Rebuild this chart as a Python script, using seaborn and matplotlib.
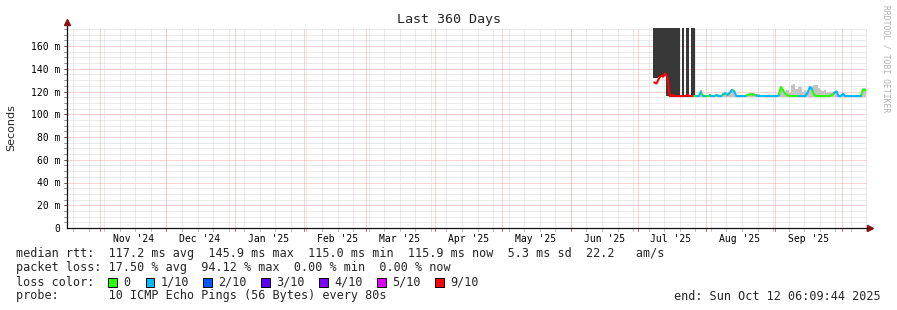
import numpy as np
import pandas as pd
import matplotlib
matplotlib.use("Agg")
import matplotlib.pyplot as plt
from matplotlib.patches import Rectangle
import seaborn as sns

# ---------------- data ----------------
chart_start = pd.Timestamp("2024-10-17 06:09:44")
chart_end = pd.Timestamp("2025-10-12 06:09:44")
sample_days = pd.date_range("2025-07-08 12:00", periods=96, freq="D")

median_ms = [128, 127, 131, 134, 133, 136, 132,
             116, 117, 116, 116, 116, 116, 116, 116, 117, 116, 116, 116,
             116, 116, 119.5, 116, 116, 116, 116.5, 116, 116, 117, 116,
             116, 117.5, 118.5, 117, 119, 121.5, 120, 116, 116, 116,
             116, 116, 117, 117.5, 117.5, 117, 116.5, 116, 116, 116,
             116, 116, 116, 116, 116, 116, 116.5, 124, 121, 118,
             116.5, 116, 116, 116, 116, 116, 116, 116, 116, 119,
             124, 122, 117, 116, 116, 116, 116, 116, 116, 116,
             117, 119, 120, 116, 116, 118, 116, 116, 116, 116,
             116, 116, 116, 116, 122, 121]

lost_pings = [9, 9, 9, 9, 9, 9, 9, 9, 9, 9, 9, 9, 9, 9, 9, 9, 9, 9, 9,
              0, 1, 1, 0, 1, 0, 0, 1, 1, 0, 1,
              1, 0, 1, 0, 1, 1, 0, 1, 1, 1,
              1, 1, 0, 0, 0, 0, 0, 1, 1, 1,
              1, 1, 1, 1, 1, 1, 1, 0, 0, 0,
              0, 0, 0, 0, 0, 0, 1, 1, 1, 1,
              1, 1, 0, 0, 0, 0, 0, 0, 0, 0,
              0, 0, 1, 1, 1, 1, 1, 1, 1, 1,
              1, 1, 1, 1, 0, 0]

smoke_top = [250, 250, 250, 250, 250, 250, 250, 250, 250, 250, 250, 250,
             117, 250, 117, 250, 117, 250, 250,
             117, 117, 121, 117, 117, 117, 117.5, 117, 117, 118, 117,
             117, 118.5, 119.5, 118, 120, 122.5, 121, 117, 117, 117,
             117, 117, 118, 119, 119, 118.5, 118, 117.5, 117, 117,
             117, 117, 117, 117, 117, 117, 117.5, 125, 122, 120,
             121, 119, 126, 126.5, 122, 124, 124, 120, 121, 120,
             124.5, 125, 126, 125.5, 123, 121, 120.5, 121, 119, 119.5,
             118.5, 119.5, 120.5, 117, 117, 118.5, 117, 117, 117, 117,
             117, 117, 117, 117, 122, 123.5]

smoke_bottom = [132, 132, 133, 134, 134, 136, 116,
                115.5, 115.5, 115.5, 115.5, 115.5, 115.5, 115.5, 115.5, 115.5, 115.5, 115.5, 115.5,
                115.5, 115.5, 115.5, 115.5, 115.5, 115.5, 115.5, 115.5, 115.5, 115.5, 115.5,
                115.5, 115.5, 115.5, 115.5, 115.5, 115.5, 115.5, 115.5, 115.5, 115.5,
                115.5, 115.5, 115.5, 115.5, 115.5, 115.5, 115.5, 115.5, 115.5, 115.5,
                115.5, 115.5, 115.5, 115.5, 115.5, 115.5, 115.5, 115.5, 115.5, 115.5,
                115.5, 115.5, 115.5, 115.5, 115.5, 115.5, 115.5, 115.5, 115.5, 115.5,
                115.5, 115.5, 115.5, 115.5, 115.5, 115.5, 115.5, 115.5, 115.5, 115.5,
                115.5, 115.5, 115.5, 115.5, 115.5, 115.5, 115.5, 115.5, 115.5, 115.5,
                115.5, 115.5, 115.5, 115.5, 115.5, 115.5]

loss_labels = ["0", "1/10", "2/10", "3/10", "4/10", "5/10", "9/10"]
loss_levels = [0, 1, 2, 3, 4, 5, 9]
loss_colors = ["#26ff00", "#00b8ff", "#0059ff", "#5e00ff", "#7e00ff", "#dd00ff", "#ff0000"]

y_ticks = [0, 20, 40, 60, 80, 100, 120, 140, 160]
month_labels = ["Nov '24", "Dec '24", "Jan '25", "Feb '25", "Mar '25", "Apr '25",
                "May '25", "Jun '25", "Jul '25", "Aug '25", "Sep '25"]
month_centers = pd.date_range("2024-11-01", periods=11, freq="MS") + pd.Timedelta(days=15)
month_starts = pd.date_range("2024-11-01", "2025-10-01", freq="MS")
week_starts = pd.date_range("2024-10-20", "2025-10-12", freq="7D")

title = "Last 360 Days"
stats_rtt = "median rtt:  117.2 ms avg  145.9 ms max  115.0 ms min  115.9 ms now  5.3 ms sd  22.2   am/s"
stats_loss = "packet loss: 17.50 % avg  94.12 % max  0.00 % min  0.00 % now"
probe_text = "probe:       10 ICMP Echo Pings (56 Bytes) every 80s"
end_text = "end: Sun Oct 12 06:09:44 2025"

# ---------------- drawing ----------------
sns.set_style("white")
plt.rcParams["font.family"] = ["DejaVu Sans Mono", "DejaVu Sans"]
MONO = "DejaVu Sans Mono"

W, H = 897, 310
fig = plt.figure(figsize=(W / 100, H / 100), dpi=100)
fig.patch.set_facecolor("white")


def fx(x):
    return x / W


def fy(y):
    return 1 - y / H


ax = fig.add_axes([fx(67), fy(228), 800 / W, 200 / H])
ax.set_facecolor("white")
ymax = 200 / 1.1375
ax.set_ylim(0, ymax)
ax.set_xlim(chart_start, chart_end)

MINOR = "#d6d6d6"
MAJOR = "#f4a6a6"
dot = (0, (1, 1))

# horizontal grid
for v in range(5, 180, 5):
    if v > ymax:
        break
    col = MAJOR if v % 20 == 0 else MINOR
    ax.axhline(v, color=col, lw=0.72, ls=dot, zorder=0.5)
    ax.axhline(v, xmin=-3 / 800, xmax=0, color="#999999" if v % 20 else "#666666",
               lw=0.72, clip_on=False, zorder=0.5)
# vertical grid
for d in week_starts:
    if chart_start < d < chart_end:
        ax.axvline(d, color=MINOR, lw=0.72, ls=dot, zorder=0.5)
        ax.axvline(d, ymin=-3 / 200, ymax=0, color="#c0c0c0", lw=0.72, clip_on=False)
for d in month_starts:
    ax.axvline(d, color=MAJOR, lw=0.72, ls=dot, zorder=0.6)
    ax.axvline(d, ymin=-3 / 200, ymax=0, color="#e06060", lw=0.72, clip_on=False)

# smoke
top = np.array(smoke_top, dtype=float)
bot = np.array(smoke_bottom, dtype=float)
beyond = top > ymax
ax.bar(sample_days[beyond], (top - bot)[beyond], bottom=bot[beyond], width=1.0,
       color="#383838", linewidth=0, zorder=1)
ax.bar(sample_days[~beyond], (top - bot)[~beyond], bottom=bot[~beyond], width=1.0,
       color="#c4c4c4", linewidth=0, zorder=1)

# median line coloured by loss
lab_of = dict(zip(loss_levels, loss_labels))
rows = []
seg = 0
for i in range(len(median_ms)):
    if i == 0 or lost_pings[i] != lost_pings[i - 1]:
        seg += 1
        if i > 0:
            rows.append((seg, sample_days[i - 1], median_ms[i - 1], lab_of[lost_pings[i]]))
    rows.append((seg, sample_days[i], median_ms[i], lab_of[lost_pings[i]]))
df = pd.DataFrame(rows, columns=["seg", "date", "ms", "loss"])
sns.lineplot(data=df, x="date", y="ms", hue="loss", units="seg", estimator=None,
             palette=dict(zip(loss_labels, loss_colors)), legend=False, sort=False,
             linewidth=1.5, ax=ax, zorder=3)
ax.set_xlim(chart_start, chart_end)
ax.set_ylim(0, ymax)

# axes
for s in ["top", "right"]:
    ax.spines[s].set_visible(False)
for s in ["left", "bottom"]:
    ax.spines[s].set_color("#111111")
    ax.spines[s].set_linewidth(0.9)
    ax.spines[s].set_zorder(4)
ax.plot([0, 0], [1, 1 + 5 / 200], transform=ax.transAxes, color="#111111", lw=0.9, clip_on=False)
ax.plot([0], [1 + 6 / 200], transform=ax.transAxes, marker="^", ms=4.5, color="#8b1010",
        clip_on=False, mec="#8b1010")
ax.plot([1, 1 + 2 / 800], [0, 0], transform=ax.transAxes, color="#111111", lw=0.9, clip_on=False)
ax.plot([1 + 3 / 800], [0], transform=ax.transAxes, marker=">", ms=4.5, color="#8b1010",
        clip_on=False, mec="#8b1010")

ax.set_yticks(y_ticks)
ax.set_yticklabels(["0" if v == 0 else f"{v} m" for v in y_ticks], family=MONO, fontsize=7)
ax.set_xticks(month_centers)
ax.set_xticklabels(month_labels, family=MONO, fontsize=7)
ax.tick_params(axis="both", length=0, colors="#000000")
ax.tick_params(axis="y", pad=5)
ax.tick_params(axis="x", pad=4)
ax.set_xlabel("")
ax.set_ylabel("")

# texts
fig.text(fx(11), fy(128), "Seconds", rotation=90, ha="center", va="center",
         family="DejaVu Sans", fontsize=8)
fig.text(fx(448.5), fy(19), title, ha="center", va="center", family=MONO, fontsize=9.6)
fig.text(fx(886), fy(5), "RRDTOOL / TOBI OETIKER", rotation=270, ha="center", va="top",
         family=MONO, fontsize=5.8, color="#b0b0b0")

FS = 8.5
fig.text(fx(16), fy(254), stats_rtt, ha="left", va="center", family=MONO, fontsize=FS)
fig.text(fx(16), fy(268), stats_loss, ha="left", va="center", family=MONO, fontsize=FS)
fig.text(fx(16), fy(282), "loss color:", ha="left", va="center", family=MONO, fontsize=FS)
label_x = [123, 160.5, 218, 276, 334, 392, 450]
for lx, lab, col in zip(label_x, loss_labels, loss_colors):
    fig.add_artist(Rectangle((fx(lx - 15), fy(286.5)), 8.5 / W, 9 / H, facecolor=col,
                             edgecolor="#000000", lw=0.7, transform=fig.transFigure))
    fig.text(fx(lx), fy(282), lab, ha="left", va="center", family=MONO, fontsize=FS)
fig.text(fx(16), fy(296), probe_text, ha="left", va="center", family=MONO, fontsize=FS)
fig.text(fx(881), fy(296), end_text, ha="right", va="center", family=MONO, fontsize=FS)

fig.savefig("out.png", dpi=100, facecolor="white")
